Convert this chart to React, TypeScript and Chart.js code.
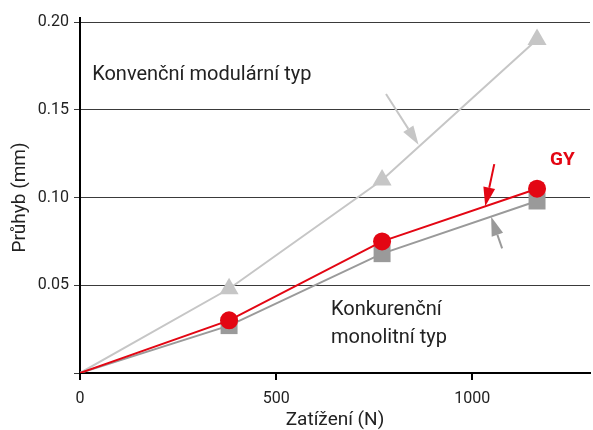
import { useEffect, useRef } from 'react';
import { Chart, registerables } from 'chart.js';

Chart.register(...registerables);

// ---- data ----
const loads = [0, 380, 770, 1165];
const gyDeflection = [0, 0.03, 0.075, 0.105];
const monolithicDeflection = [0, 0.027, 0.068, 0.098];
const modularDeflection = [0, 0.048, 0.11, 0.19];
const xTickValues = [0, 500, 1000];
const yTickValues = [0, 0.05, 0.1, 0.15, 0.2];
const seriesNames = ['GY', 'Konkurenční monolitní typ', 'Konvenční modulární typ'];
const xTitle = 'Zatížení (N)';
const yTitle = 'Průhyb (mm)';

// ---- annotations (data coordinates) ----
const notes = [
  { lines: ['Konvenční modulární typ'], x: 31, y: 0.17, kind: 'plain' },
  { lines: ['Konkurenční', 'monolitní typ'], x: 640, y: 0.036, kind: 'plain' },
  { lines: ['GY'], x: 1198, y: 0.121, kind: 'gy' },
];
const arrows = [
  { from: [780, 0.159], to: [863, 0.13], kind: 'light' },
  { from: [1056, 0.119], to: [1033, 0.095], kind: 'red' },
  { from: [1076, 0.071], to: [1048, 0.089], kind: 'gray' },
];

const RED = '#e30613';
const GRAY = '#9a9a9a';
const LIGHT = '#c6c6c6';
const FONT = 'Roboto, "DejaVu Sans", sans-serif';
const colorOf: Record<string, string> = { red: RED, gray: GRAY, light: LIGHT };

const pts = (ys: number[]) => loads.map((x, i) => ({ x, y: ys[i] }));

const annotationPlugin = {
  id: 'annotations',
  afterDraw(chart: any) {
    const ctx = chart.ctx as CanvasRenderingContext2D;
    const xs = chart.scales.x;
    const ys = chart.scales.y;
    const area = chart.chartArea;
    ctx.save();
    ctx.strokeStyle = '#000';
    ctx.lineWidth = 2;
    ctx.beginPath();
    ctx.moveTo(area.left, area.top);
    ctx.lineTo(area.left, area.top - 5);
    ctx.stroke();

    for (const a of arrows) {
      const x1 = xs.getPixelForValue(a.from[0]);
      const y1 = ys.getPixelForValue(a.from[1]);
      const x2 = xs.getPixelForValue(a.to[0]);
      const y2 = ys.getPixelForValue(a.to[1]);
      const ang = Math.atan2(y2 - y1, x2 - x1);
      const headLen = 19;
      const headW = 6;
      const bx = x2 - Math.cos(ang) * headLen;
      const by = y2 - Math.sin(ang) * headLen;
      const c = colorOf[a.kind];
      ctx.strokeStyle = c;
      ctx.fillStyle = c;
      ctx.lineWidth = 2;
      ctx.beginPath();
      ctx.moveTo(x1, y1);
      ctx.lineTo(bx, by);
      ctx.stroke();
      ctx.beginPath();
      ctx.moveTo(x2, y2);
      ctx.lineTo(bx + Math.sin(ang) * headW, by - Math.cos(ang) * headW);
      ctx.lineTo(bx - Math.sin(ang) * headW, by + Math.cos(ang) * headW);
      ctx.closePath();
      ctx.fill();
    }

    ctx.textBaseline = 'middle';
    ctx.textAlign = 'left';
    for (const n of notes) {
      const x = xs.getPixelForValue(n.x);
      const y = ys.getPixelForValue(n.y);
      if (n.kind === 'gy') {
        ctx.font = `bold 19px ${FONT}`;
        ctx.fillStyle = RED;
      } else {
        ctx.font = `20px ${FONT}`;
        ctx.fillStyle = '#222';
      }
      n.lines.forEach((line, i) => ctx.fillText(line, x, y + i * 28));
    }
    ctx.restore();
  },
};

export default function App() {
  const ref = useRef<HTMLCanvasElement>(null);
  useEffect(() => {
    document.body.style.margin = '0';
    const chart = new Chart(ref.current!, {
      type: 'line',
      data: {
        datasets: [
          {
            label: seriesNames[0],
            data: pts(gyDeflection),
            borderColor: RED,
            backgroundColor: RED,
            borderWidth: 2,
            pointStyle: 'circle',
            pointRadius: [0, 9, 9, 9],
            pointBorderWidth: 0,
          },
          {
            label: seriesNames[1],
            data: pts(monolithicDeflection),
            borderColor: GRAY,
            backgroundColor: GRAY,
            borderWidth: 2,
            pointStyle: 'rect',
            pointRadius: [0, 12, 12, 12],
            pointBorderWidth: 0,
          },
          {
            label: seriesNames[2],
            data: pts(modularDeflection),
            borderColor: LIGHT,
            backgroundColor: LIGHT,
            borderWidth: 2,
            pointStyle: 'triangle',
            pointRadius: [0, 11, 11, 11],
            pointBorderWidth: 0,
          },
        ],
      },
      options: {
        animation: false,
        responsive: false,
        devicePixelRatio: 1,
        layout: { autoPadding: false, padding: { top: 22, right: 3, left: 0, bottom: 0 } },
        plugins: { legend: { display: false }, tooltip: { enabled: false } },
        scales: {
          x: {
            type: 'linear',
            min: 0,
            max: 1300,
            afterFit: (s: any) => { s.height = 57; s.paddingRight = 0; s.paddingLeft = 0; },
            afterBuildTicks: (s: any) => { s.ticks = xTickValues.map((v) => ({ value: v })); },
            border: { color: '#000', width: 2 },
            grid: { drawOnChartArea: false, drawTicks: true, tickLength: 7, color: '#000', lineWidth: 2 },
            ticks: {
              color: '#222',
              font: { family: FONT, size: 16 },
              padding: 9,
              maxRotation: 0,
              callback: (v: any) => String(v),
            },
            title: { display: true, text: xTitle, color: '#222', font: { family: FONT, size: 19 }, padding: { top: 0, bottom: -2 } },
          },
          y: {
            type: 'linear',
            min: 0,
            max: 0.2,
            afterFit: (s: any) => { s.width = 80; s.paddingTop = 0; s.paddingBottom = 0; },
            afterBuildTicks: (s: any) => { s.ticks = yTickValues.map((v) => ({ value: v })); },
            border: { color: '#000', width: 2 },
            grid: { drawOnChartArea: true, drawTicks: true, tickLength: 6, color: '#3a3a3a', lineWidth: 1 },
            ticks: {
              color: '#222',
              font: { family: FONT, size: 16 },
              padding: 5,
              callback: (v: any) => (Number(v) === 0 ? '' : Number(v).toFixed(2)),
            },
            title: { display: true, text: yTitle, color: '#222', font: { family: FONT, size: 19 }, padding: { top: 9, bottom: 0 } },
          },
        },
      },
      plugins: [annotationPlugin],
    });
    return () => chart.destroy();
  }, []);
  return <canvas ref={ref} width={593} height={430} />;
}
